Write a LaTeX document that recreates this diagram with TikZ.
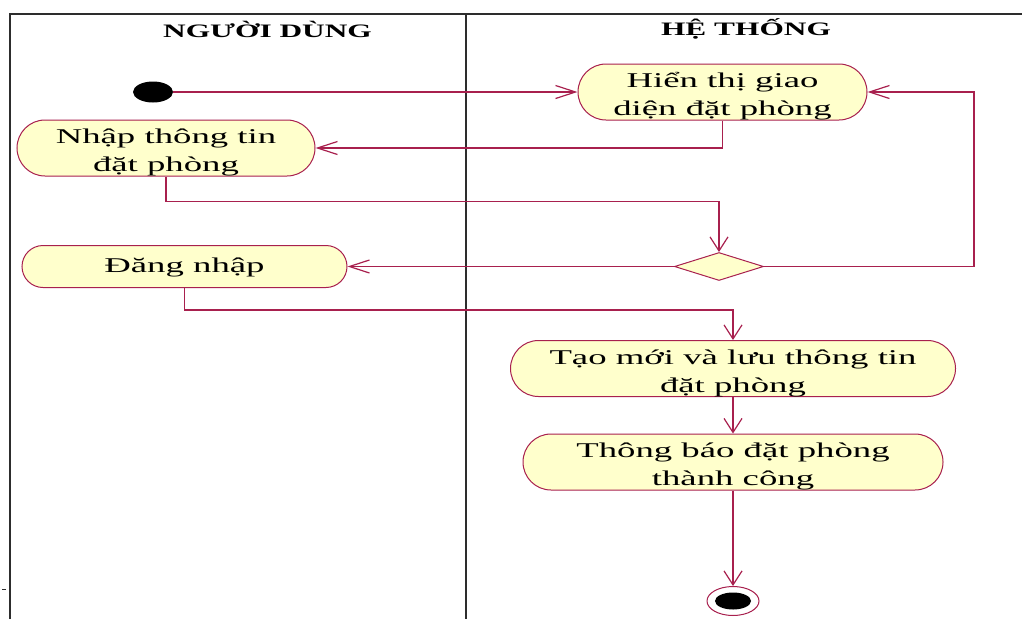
\documentclass[tikz,border=0pt]{standalone}
\usepackage{graphicx}
\usepackage{fontspec}
\setmainfont{Liberation Serif}
\usetikzlibrary{shapes.misc,shapes.geometric,arrows.meta}

\definecolor{wine}{RGB}{168,32,78}
\definecolor{actfill}{RGB}{255,255,204}
\definecolor{framegray}{RGB}{45,45,45}

% wide, centred multi-line label (optional argument: vertical shift of the ink)
\newcommand\widetext[2][-4pt]{\raisebox{#1}[\height][\depth]{\scalebox{1.75}[1]{\begin{tabular}{@{}c@{}}#2\end{tabular}}}}
\newcommand\widehead[1]{\scalebox{1.65}[1]{#1}}

\begin{document}
\begin{tikzpicture}[x=1pt,y=-1pt,
  act/.style={rounded rectangle, draw=wine, line width=1pt, fill=actfill,
    inner sep=0pt, font=\fontsize{21}{28}\selectfont},
  lanehead/.style={inner sep=0pt, font=\fontsize{19}{23}\selectfont\bfseries},
  framepen/.style={draw=framegray, line width=2pt},
  flow/.style={draw=wine, line width=1.2pt},
  hflow/.style={flow, -{Straight Barb[length=20pt,width=13pt]}},
  vflow/.style={flow, -{Straight Barb[length=14pt,width=18pt]}}]

\useasboundingbox (0,0) rectangle (1022,619);

% swimlane frame
\draw[framepen] (10,619) -- (10,14) -- (1022,14);
\draw[framepen] (466,14) -- (466,619);
\draw[draw=framegray, line width=1pt] (2,589) -- (6,589);

% lane titles
\node[lanehead, anchor=base] (laneuser) at (267.5,37.5) {\widehead{NGƯỜI DÙNG}};
\node[lanehead, anchor=base] (lanesys) at (746,35) {\widehead{HỆ THỐNG}};

% initial and final states
\node[ellipse, fill=black, minimum width=40pt, minimum height=21pt, inner sep=0pt] (start) at (153,92) {};
\node[ellipse, draw=wine, fill=white, line width=1pt, minimum width=52pt, minimum height=29pt, inner sep=0pt] (stop) at (733,601) {};
\node[ellipse, fill=black, minimum width=36pt, minimum height=17pt, inner sep=0pt] (stopdot) at (stop.center) {};

% activities
\node[act, minimum width=289pt, minimum height=54pt] (show) at (722.5,92) {\widetext{Hiển thị giao\\diện đặt phòng}};
\node[act, minimum width=298pt, minimum height=54pt] (input) at (166,148) {\widetext{Nhập thông tin\\đặt phòng}};
\node[act, minimum width=325pt, minimum height=42pt] (login) at (184.5,266.5) {\widetext[0pt]{Đăng nhập}};
\node[act, minimum width=445pt, minimum height=55pt] (create) at (733,368.5) {\widetext{Tạo mới và lưu thông tin\\đặt phòng}};
\node[act, minimum width=420pt, minimum height=54pt] (notify) at (733,462) {\widetext{Thông báo đặt phòng\\thành công}};

% decision
\node[diamond, draw=wine, fill=actfill, line width=1pt, minimum width=89pt, minimum height=28pt, inner sep=0pt] (dec) at (719,266.5) {};
\coordinate (loopback) at (974,0);

% transitions
\draw[hflow] (start.east) -- (show.west);
\draw[hflow] (show.south) |- (input.east);
\draw[vflow] (input.south) -- ++(0,25) -| (dec.north);
\draw[hflow] (dec.west) -- (login.east);
\draw[hflow] (dec.east) -- (dec.east -| loopback) |- (show.east);
\draw[vflow] (login.south) -- ++(0,22) -| (create.north);
\draw[vflow] (create.south) -- (notify.north);
\draw[vflow] (notify.south) -- (stop.north);
\end{tikzpicture}
\end{document}
